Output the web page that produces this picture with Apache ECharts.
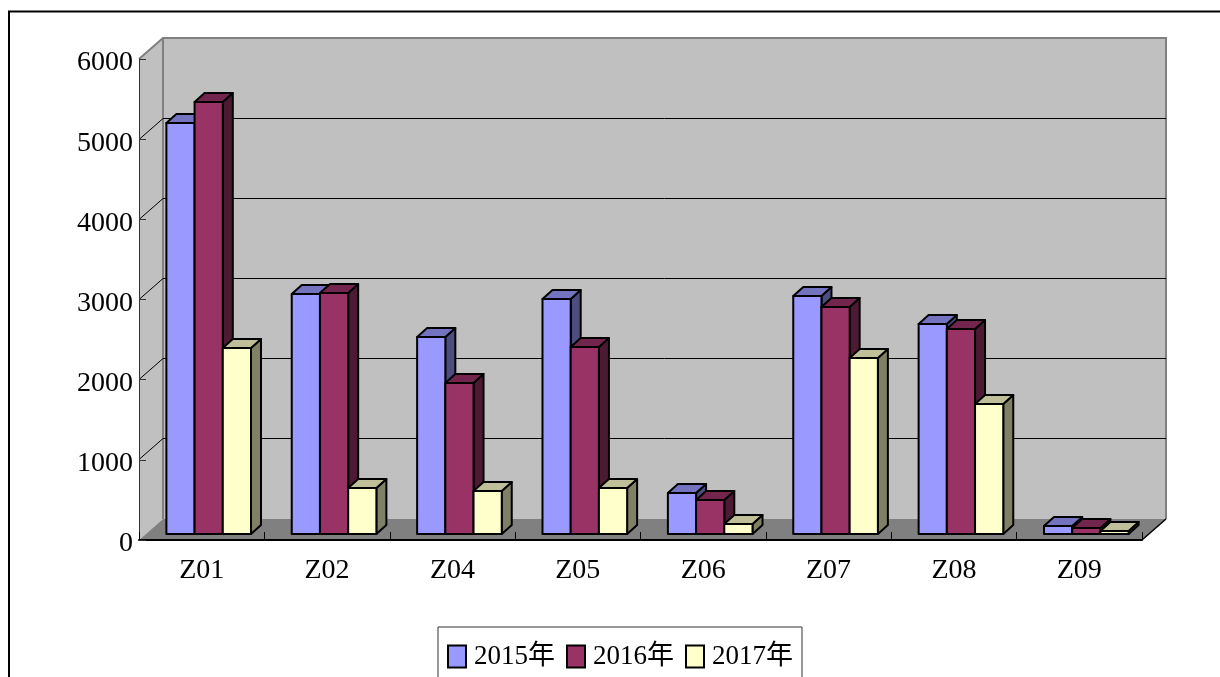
<!DOCTYPE html>
<html>
<head>
<meta charset="utf-8">
<title>chart</title>
<script src="https://cdn.jsdelivr.net/npm/echarts@6/dist/echarts.min.js"></script>
<style>
html, body { margin: 0; padding: 0; background: #fff; }
#main { width: 1220px; height: 677px; }
</style>
</head>
<body>
<div id="main"></div>
<script>
let categories = ['Z01', 'Z02', 'Z04', 'Z05', 'Z06', 'Z07', 'Z08', 'Z09']
let values2015 = [5127, 2994, 2457, 2931, 511, 2969, 2619, 100]
let values2016 = [5389, 3006, 1883, 2332, 424, 2831, 2557, 75]
let values2017 = [2320, 574, 536, 574, 125, 2195, 1621, 37]
let yTicks = [0, 1000, 2000, 3000, 4000, 5000, 6000]

let fontName = '"Liberation Serif", "Noto Sans CJK SC", serif'

// fake 3D: how far the back wall and the bars are pushed, in px
let wallDx = 24, wallDy = 21
let floorDx = 7, floorDy = 6
let barDx = 10, barDy = 9

function renderWalls(params, api) {
    let cs = params.coordSys
    let left = cs.x, right = cs.x + cs.width
    let bottom = api.coord([0, yTicks[0]])[1]
    let top = api.coord([0, yTicks[yTicks.length - 1]])[1]
    let wallStyle = { fill: '#c0c0c0', stroke: null }
    let edge = { stroke: '#808080', lineWidth: 2 }
    let children = [
        { type: 'polygon', shape: { points: [[left + wallDx, top - wallDy], [right + wallDx, top - wallDy], [right + wallDx, bottom - wallDy], [left + wallDx, bottom - wallDy]] }, style: wallStyle },
        { type: 'polygon', shape: { points: [[left, top], [left + wallDx, top - wallDy], [left + wallDx, bottom - wallDy], [left, bottom]] }, style: wallStyle },
        { type: 'polygon', shape: { points: [[left, bottom], [right, bottom], [right + wallDx, bottom - wallDy], [left + wallDx, bottom - wallDy]] }, style: { fill: '#808080', stroke: null } },
        { type: 'polyline', shape: { points: [[left, top], [left + wallDx, top - wallDy], [right + wallDx, top - wallDy], [right + wallDx, bottom - wallDy]] }, style: Object.assign({ fill: null }, edge) },
        { type: 'line', shape: { x1: left + wallDx, y1: top - wallDy, x2: left + wallDx, y2: bottom - wallDy }, style: edge },
        { type: 'line', shape: { x1: right, y1: bottom, x2: right + wallDx, y2: bottom - wallDy }, style: { stroke: '#000', lineWidth: 1.5 } }
    ]
    for (let i = 1; i < yTicks.length - 1; i++) {
        let y = Math.floor(api.coord([0, yTicks[i]])[1]) + 0.5
        children.push({
            type: 'polyline',
            shape: { points: [[left, y], [left + wallDx, y - wallDy], [right + wallDx, y - wallDy]] },
            style: { fill: null, stroke: '#000', lineWidth: 1 }
        })
    }
    return { type: 'group', children: children }
}

function barRenderer(seriesIndex, front, topColor, sideColor) {
    return function (params, api) {
        let base = api.coord([api.value(0), 0])
        let head = api.coord([api.value(0), api.value(1)])
        let band = api.size([1, 0])[0]
        let w = band * 0.225
        let x0 = base[0] + floorDx + (seriesIndex - 1.5) * w
        let x1 = x0 + w
        let y0 = base[1] - floorDy
        let y1 = head[1] - floorDy
        let line = { stroke: '#000', lineWidth: 2, lineJoin: 'round' }
        return {
            type: 'group',
            children: [
                { type: 'polygon', shape: { points: [[x1, y0], [x1 + barDx, y0 - barDy], [x1 + barDx, y1 - barDy], [x1, y1]] }, style: Object.assign({ fill: sideColor }, line) },
                { type: 'polygon', shape: { points: [[x0, y1], [x0 + barDx, y1 - barDy], [x1 + barDx, y1 - barDy], [x1, y1]] }, style: Object.assign({ fill: topColor }, line) },
                { type: 'polygon', shape: { points: [[x0, y0], [x1, y0], [x1, y1], [x0, y1]] }, style: Object.assign({ fill: front }, line) }
            ]
        }
    }
}

function makeSeries(name, values, seriesIndex, front, topColor, sideColor) {
    return {
        name: name,
        type: 'custom',
        z: 2,
        silent: true,
        itemStyle: { color: front, borderColor: '#000', borderWidth: 2 },
        encode: { x: 0, y: 1 },
        data: values.map((v, i) => [i, v]),
        renderItem: barRenderer(seriesIndex, front, topColor, sideColor)
    }
}

let chart = echarts.init(document.getElementById('main'))
chart.setOption({
    backgroundColor: '#fff',
    animation: false,
    graphic: [{
        type: 'polyline',
        shape: { points: [[9, 690], [9, 11.5], [1230, 11.5]] },
        style: { fill: null, stroke: '#000', lineWidth: 2 }
    }],
    grid: { left: 139, right: 78, top: 59, bottom: 137 },
    legend: {
        left: 438,
        top: 627,
        padding: [16, 9, 16, 9],
        itemGap: 11,
        itemWidth: 18,
        itemHeight: 22,
        icon: 'rect',
        selectedMode: false,
        backgroundColor: '#fff',
        borderColor: '#333',
        borderWidth: 1,
        textStyle: { fontFamily: fontName, fontSize: 27, color: '#000', padding: [0, 0, 0, 3] },
        data: ['2015年', '2016年', '2017年']
    },
    xAxis: {
        type: 'category',
        data: categories,
        axisLine: { lineStyle: { color: '#000', width: 2 } },
        axisTick: { show: true, inside: true, length: 8, alignWithLabel: false, lineStyle: { color: '#000' } },
        axisLabel: { fontFamily: fontName, fontSize: 28, color: '#000', margin: 17, interval: 0 }
    },
    yAxis: {
        type: 'value',
        min: 0,
        max: 6000,
        interval: 1000,
        splitLine: { show: false },
        axisLine: { show: true, lineStyle: { color: '#333', width: 1 } },
        axisTick: { show: true, inside: true, length: 7, lineStyle: { color: '#333' } },
        axisLabel: { fontFamily: fontName, fontSize: 28, color: '#000', margin: 6, verticalAlign: 'top', padding: [-10, 0, 0, 0], formatter: v => String(v) }
    },
    series: [
        { name: 'walls', type: 'custom', z: -1, silent: true, data: [[0, 0]], encode: { x: 0, y: 1 }, renderItem: renderWalls },
        makeSeries('2015年', values2015, 0, '#9999ff', '#7373bf', '#4d4d80'),
        makeSeries('2016年', values2016, 1, '#993366', '#73264d', '#4d1a33'),
        makeSeries('2017年', values2017, 2, '#ffffcc', '#bfbf99', '#808066')
    ]
})
</script>
</body>
</html>
